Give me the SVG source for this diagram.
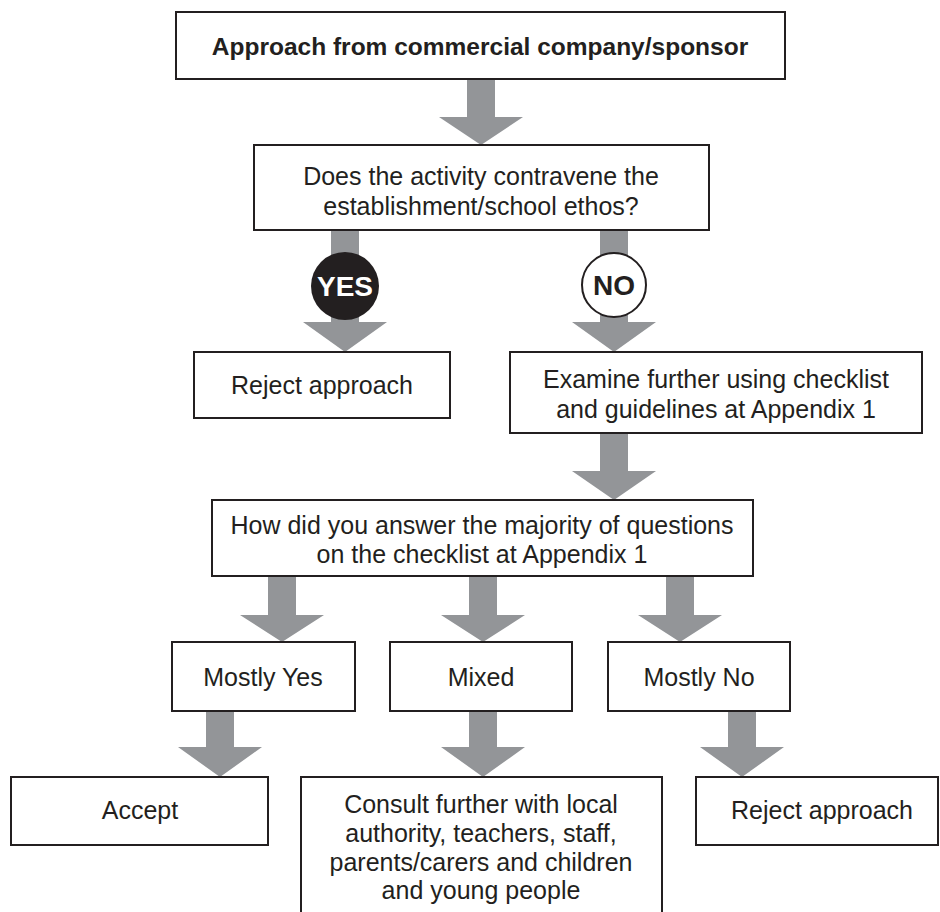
<svg xmlns="http://www.w3.org/2000/svg" width="940" height="912" viewBox="0 0 940 912">
<style>
.box{fill:#fff;stroke:#231f20;stroke-width:2}
.t{font-family:"Liberation Sans",Arial,sans-serif;font-size:25px;fill:#231f20;text-anchor:middle}
.b{font-weight:bold;font-size:24.5px}
.arr{fill:#939598}
.lbl{font-family:"Liberation Sans",Arial,sans-serif;font-size:28px;font-weight:bold;text-anchor:middle}
</style>
<rect width="940" height="912" fill="#fff"/>
<g id="connectors">
<polygon class="arr" points="467,79 495,79 495,117 523,117 481,145 439,117 467,117"/>
<polygon class="arr" points="331,230 359,230 359,322 387,322 345,352 303,322 331,322"/>
<polygon class="arr" points="600,230 628,230 628,322 656,322 614,352 572,322 600,322"/>
<polygon class="arr" points="600,433 628,433 628,471 656,471 614,500 572,471 600,471"/>
<polygon class="arr" points="268,576 296,576 296,615 324,615 282,642 240,615 268,615"/>
<polygon class="arr" points="469,576 497,576 497,615 525,615 483,642 441,615 469,615"/>
<polygon class="arr" points="666,576 694,576 694,615 722,615 680,642 638,615 666,615"/>
<polygon class="arr" points="206,711 234,711 234,747 262,747 220,777 178,747 206,747"/>
<polygon class="arr" points="469,711 497,711 497,747 525,747 483,777 441,747 469,747"/>
<polygon class="arr" points="728,711 756,711 756,747 784,747 742,777 700,747 728,747"/>
<g id="yes-label">
<circle cx="345" cy="286" r="34" fill="#231f20"/>
<text class="lbl" x="345" y="296" fill="#fff">YES</text>
</g>
<g id="no-label">
<circle cx="614" cy="285" r="32" fill="#fff" stroke="#231f20" stroke-width="2"/>
<text class="lbl" x="614" y="295" fill="#231f20">NO</text>
</g>
</g>
<g id="n-approach">
<rect class="box" x="176" y="12" width="609" height="67"/>
<text class="t b" x="480" y="55">Approach from commercial company/sponsor</text>
</g>
<g id="n-contravene">
<rect class="box" x="254" y="145" width="455" height="85"/>
<text class="t" x="481" y="185">Does the activity contravene the</text>
<text class="t" x="481" y="215">establishment/school ethos?</text>
</g>
<g id="n-reject1">
<rect class="box" x="194" y="352" width="256" height="66"/>
<text class="t" x="322" y="394">Reject approach</text>
</g>
<g id="n-examine">
<rect class="box" x="510" y="352" width="412" height="81"/>
<text class="t" x="716" y="388">Examine further using checklist</text>
<text class="t" x="716" y="418">and guidelines at Appendix 1</text>
</g>
<g id="n-how">
<rect class="box" x="212" y="500" width="541" height="76"/>
<text class="t" x="482" y="534">How did you answer the majority of questions</text>
<text class="t" x="482" y="563">on the checklist at Appendix 1</text>
</g>
<g id="n-mostlyyes">
<rect class="box" x="172" y="642" width="183" height="69"/>
<text class="t" x="263" y="686">Mostly Yes</text>
</g>
<g id="n-mixed">
<rect class="box" x="390" y="642" width="182" height="69"/>
<text class="t" x="481" y="686">Mixed</text>
</g>
<g id="n-mostlyno">
<rect class="box" x="608" y="642" width="182" height="69"/>
<text class="t" x="699" y="686">Mostly No</text>
</g>
<g id="n-accept">
<rect class="box" x="11" y="777" width="257" height="68"/>
<text class="t" x="140" y="819">Accept</text>
</g>
<g id="n-consult">
<rect class="box" x="301" y="777" width="361" height="140"/>
<text class="t" x="481" y="813">Consult further with local</text>
<text class="t" x="481" y="842">authority, teachers, staff,</text>
<text class="t" x="481" y="871">parents/carers and children</text>
<text class="t" x="481" y="899">and young people</text>
</g>
<g id="n-reject2">
<rect class="box" x="696" y="777" width="242" height="68"/>
<text class="t" x="822" y="819">Reject approach</text>
</g>
</svg>
